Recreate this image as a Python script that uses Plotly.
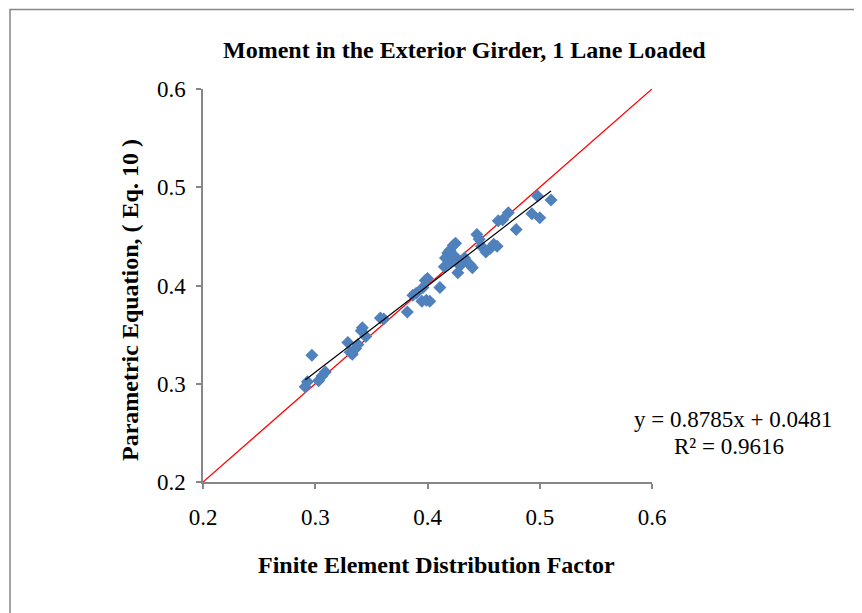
import plotly.graph_objects as go

# finite element distribution factor vs parametric equation (Eq. 10)
fe_factor = [0.291, 0.293, 0.297, 0.303, 0.306, 0.309, 0.329, 0.331, 0.333, 0.336,
             0.338, 0.341, 0.342, 0.345, 0.358, 0.361, 0.382, 0.387, 0.390, 0.395,
             0.396, 0.398, 0.400, 0.399, 0.402, 0.411, 0.415, 0.416, 0.418, 0.420,
             0.421, 0.423, 0.425, 0.424, 0.427, 0.429, 0.431, 0.433, 0.438, 0.440,
             0.444, 0.446, 0.448, 0.452, 0.456, 0.459, 0.462, 0.463, 0.467, 0.472,
             0.479, 0.493, 0.498, 0.500, 0.510]
param_eq = [0.297, 0.302, 0.329, 0.303, 0.308, 0.312, 0.342, 0.332, 0.330, 0.336,
            0.340, 0.354, 0.357, 0.348, 0.367, 0.366, 0.373, 0.390, 0.392, 0.384,
            0.398, 0.405, 0.407, 0.385, 0.384, 0.398, 0.419, 0.428, 0.433, 0.436,
            0.424, 0.441, 0.443, 0.430, 0.413, 0.420, 0.425, 0.428, 0.421, 0.418,
            0.452, 0.447, 0.440, 0.434, 0.438, 0.442, 0.440, 0.466, 0.467, 0.474,
            0.457, 0.473, 0.491, 0.469, 0.487]

slope = 0.8785
intercept = 0.0481
r2 = 0.9616
axis_range = [0.2, 0.6]
ticks = [0.2, 0.3, 0.4, 0.5, 0.6]

serif = "Liberation Serif, Times New Roman, serif"
grey = "#868686"

fig = go.Figure()

# 1:1 line
fig.add_trace(go.Scatter(x=axis_range, y=axis_range, mode="lines",
                         line=dict(color="#FF0000", width=1.3), hoverinfo="skip"))

fig.add_trace(go.Scatter(x=fe_factor, y=param_eq, mode="markers",
                         marker=dict(symbol="diamond", size=10, color="#4F81BD",
                                     line=dict(width=0)),
                         cliponaxis=False))

# linear trendline
xt = [min(fe_factor), max(fe_factor)]
yt = [slope * v + intercept for v in xt]
fig.add_trace(go.Scatter(x=xt, y=yt, mode="lines",
                         line=dict(color="black", width=1.2), hoverinfo="skip"))

ax = dict(range=axis_range, tickvals=ticks, ticktext=[f"{t:.1f}" for t in ticks],
          showgrid=False, zeroline=False, showline=True, linecolor=grey, linewidth=1.5,
          ticks="outside", ticklen=5, tickcolor=grey, tickwidth=1.5,
          tickfont=dict(family=serif, size=23, color="black"))
fig.update_xaxes(**ax, ticklabelstandoff=9)
fig.update_yaxes(**ax, ticklabelstandoff=6)

ann = [
    dict(text="<b>Moment in the Exterior Girder, 1 Lane Loaded</b>", x=0.5835, y=1.099,
         font=dict(size=24)),
    dict(text="<b>Finite Element Distribution Factor</b>", x=0.521, y=-0.211,
         font=dict(size=24)),
    dict(text="<b>Parametric Equation, ( Eq. 10 )</b>", x=-0.1626, y=0.463,
         textangle=-90, font=dict(size=24)),
    dict(text=f"y = {slope}x + {intercept}", x=1.180, y=0.158, font=dict(size=23)),
    dict(text=f"R² = {r2}", x=1.1715, y=0.0916, font=dict(size=23)),
]
for a in ann:
    a["font"].update(family=serif, color="black")
    fig.add_annotation(xref="paper", yref="paper", showarrow=False,
                       xanchor="center", yanchor="middle", **a)

# outer chart border (runs off the right/bottom edge)
fig.add_shape(type="rect", xref="paper", yref="paper", x0=-0.4298, y0=-0.38,
              x1=1.52, y1=1.202, line=dict(color=grey, width=1.5), layer="below")

# page puts the figure 8px in from the top-left corner
fig.update_layout(width=862, height=613, showlegend=False,
                  margin=dict(l=195, r=218, t=81, b=139),
                  paper_bgcolor="white", plot_bgcolor="white")

fig.write_html("out.html")
